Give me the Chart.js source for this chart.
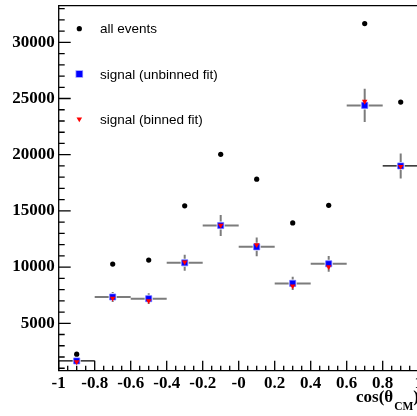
<!DOCTYPE html>
<html>
<head>
<meta charset="utf-8">
<script src="https://cdn.jsdelivr.net/npm/chart.js@4/dist/chart.umd.min.js"></script>
<style>
  html, body { margin: 0; padding: 0; background: #fff; overflow: hidden; }
  #wrap { width: 417px; height: 416px; overflow: hidden; }
</style>
</head>
<body>
<div id="wrap"><canvas id="myChart" width="450" height="416"></canvas></div>
<script>
// bins in cos(theta_CM)
const binCenters = [-0.9, -0.7, -0.5, -0.3, -0.1, 0.1, 0.3, 0.5, 0.7, 0.9];
const binWidth = 0.2;
const allEvents = [2250, 10270, 10620, 15450, 20030, 17820, 13930, 15500, 31670, 24680];
const sigUnbinned = [1650, 7340, 7190, 10380, 13700, 11800, 8550, 10290, 24390, 19000];
const sigUnbinnedErr = [200, 450, 480, 710, 930, 840, 590, 700, 1480, 1110];
const sigBinned = [1560, 7220, 7000, 10450, 13720, 11990, 8310, 10030, 24740, 18950];

const xTicks = [-1, -0.8, -0.6, -0.4, -0.2, 0, 0.2, 0.4, 0.6, 0.8, 1];
const xTickLabels = ['-1', '-0.8', '-0.6', '-0.4', '-0.2', '-0', '0.2', '0.4', '0.6', '0.8', '1'];
const yTicks = [5000, 10000, 15000, 20000, 25000, 30000];
const yTickLabels = ['5000', '10000', '15000', '20000', '25000', '30000'];

const legendLabels = ['all events', 'signal (unbinned fit)', 'signal (binned fit)'];

function pts(vals) {
  return binCenters.map((x, i) => ({ x: x, y: vals[i] }));
}

const tickFont = { family: 'Liberation Serif', weight: 'bold', size: 17 };

// error bars, frame, inward ticks, legend and axis title
const rootStyle = {
  id: 'rootStyle',
  beforeDatasetsDraw(chart) {
    const ctx = chart.ctx;
    const xs = chart.scales.x, ys = chart.scales.y;
    const gap = 4;
    ctx.save();
    binCenters.forEach((xc, i) => {
      const px = xs.getPixelForValue(xc);
      const py = ys.getPixelForValue(sigUnbinned[i]);
      const x0 = xs.getPixelForValue(xc - binWidth / 2);
      const x1 = xs.getPixelForValue(xc + binWidth / 2);
      const yTop = ys.getPixelForValue(sigUnbinned[i] + sigUnbinnedErr[i]);
      const yBot = ys.getPixelForValue(sigUnbinned[i] - sigUnbinnedErr[i]);
      const edge = (i === 0 || i === binCenters.length - 1);
      // horizontal
      ctx.strokeStyle = edge ? '#000' : '#7c7c7c';
      ctx.lineWidth = edge ? 1.3 : 2;
      ctx.beginPath();
      ctx.moveTo(x0, py); ctx.lineTo(px - gap, py);
      ctx.moveTo(px + gap, py); ctx.lineTo(x1, py);
      ctx.stroke();
      // vertical
      ctx.strokeStyle = '#7c7c7c';
      ctx.lineWidth = 2;
      ctx.beginPath();
      if (yTop < py - gap) { ctx.moveTo(px, yTop); ctx.lineTo(px, py - gap); }
      if (yBot > py + gap) { ctx.moveTo(px, py + gap); ctx.lineTo(px, yBot); }
      ctx.stroke();
    });
    ctx.restore();
  },
  afterDraw(chart) {
    const ctx = chart.ctx;
    const a = chart.chartArea;
    const xs = chart.scales.x, ys = chart.scales.y;
    ctx.save();
    // frame
    ctx.strokeStyle = '#000';
    ctx.lineWidth = 1.3;
    ctx.beginPath();
    ctx.moveTo(a.right, a.top); ctx.lineTo(a.left, a.top);
    ctx.lineTo(a.left, a.bottom); ctx.lineTo(a.right, a.bottom);
    ctx.stroke();
    // y ticks, pointing inward
    ctx.beginPath();
    for (let v = 1000; v <= ys.max; v += 1000) {
      const py = ys.getPixelForValue(v);
      const len = (v % 5000 === 0) ? 12 : 6;
      ctx.moveTo(a.left, py); ctx.lineTo(a.left + len, py);
    }
    // x ticks
    for (let k = 0; k <= 40; k++) {
      const v = -1 + k * 0.05;
      const px = xs.getPixelForValue(v);
      const len = (k % 4 === 0) ? 10 : 5;
      ctx.moveTo(px, a.bottom); ctx.lineTo(px, a.bottom - len);
    }
    ctx.stroke();

    // legend
    const lx = 79.3, tx = 100;
    const ly = [28.7, 74, 119];
    ctx.fillStyle = '#000';
    ctx.beginPath(); ctx.arc(lx, ly[0], 2.6, 0, Math.PI * 2); ctx.fill();
    ctx.fillStyle = 'rgba(110,110,255,0.7)';
    ctx.fillRect(lx - 3.8, ly[1] - 3.8, 7.6, 7.6);
    ctx.fillStyle = '#0000ff';
    ctx.fillRect(lx - 3, ly[1] - 3, 6, 6);
    ctx.fillStyle = '#ff0000';
    ctx.beginPath();
    ctx.moveTo(lx - 2.8, ly[2] - 1.6); ctx.lineTo(lx + 2.8, ly[2] - 1.6); ctx.lineTo(lx, ly[2] + 3.2);
    ctx.closePath(); ctx.fill();
    ctx.fillStyle = '#000';
    ctx.font = '13.5px "Liberation Sans"';
    ctx.textBaseline = 'middle';
    legendLabels.forEach((t, i) => ctx.fillText(t, tx, ly[i] + 1));

    // axis title cos(theta_CM)
    ctx.textBaseline = 'alphabetic';
    let x = 356;
    ctx.font = 'bold 17px "Liberation Serif"';
    ctx.fillText('cos(\u03B8', x, 401.7);
    x += ctx.measureText('cos(\u03B8').width + 1;
    ctx.font = 'bold 11.5px "Liberation Serif"';
    ctx.fillText('CM', x, 409.7);
    x += ctx.measureText('CM').width;
    ctx.font = 'bold 17px "Liberation Serif"';
    ctx.fillText(')', x, 401.7);
    ctx.restore();
  }
};

const ctx = document.getElementById('myChart').getContext('2d');
const myChart = new Chart(ctx, {
  type: 'scatter',
  data: {
    datasets: [{
      label: legendLabels[0],
      data: pts(allEvents),
      pointStyle: 'circle',
      pointRadius: 2.6,
      backgroundColor: '#000',
      borderWidth: 0,
      order: 3
    }, {
      label: legendLabels[1],
      data: pts(sigUnbinned),
      pointStyle: 'rect',
      pointRadius: 4.3,
      backgroundColor: '#0000ff',
      borderColor: 'rgba(110,110,255,0.7)',
      borderWidth: 1,
      order: 2
    }, {
      label: legendLabels[2],
      data: pts(sigBinned),
      pointStyle: 'triangle',
      rotation: 180,
      pointRadius: 3.2,
      backgroundColor: '#ff0000',
      borderWidth: 0,
      order: 1
    }]
  },
  options: {
    responsive: false,
    animation: false,
    layout: { padding: { left: 0, top: 5.7, right: 31.3, bottom: 0 } },
    plugins: { legend: { display: false }, tooltip: { enabled: false } },
    scales: {
      x: {
        type: 'linear',
        min: -1,
        max: 1,
        grid: { display: false, drawTicks: false },
        border: { display: false },
        afterBuildTicks: (s) => { s.ticks = xTicks.map(v => ({ value: v })); },
        afterFit: (s) => { s.height = 45.3; s.paddingLeft = 0; s.paddingRight = 0; },
        ticks: {
          autoSkip: false,
          maxRotation: 0,
          padding: 3,
          color: '#000',
          font: tickFont,
          callback: (v, i) => xTickLabels[i]
        }
      },
      y: {
        type: 'linear',
        min: 780,
        max: 33260,
        grid: { display: false, drawTicks: false },
        border: { display: false },
        afterBuildTicks: (s) => { s.ticks = yTicks.map(v => ({ value: v })); },
        afterFit: (s) => { s.width = 58.7; s.paddingTop = 0; s.paddingBottom = 0; },
        ticks: {
          autoSkip: false,
          padding: 4,
          color: '#000',
          font: tickFont,
          callback: (v, i) => yTickLabels[i]
        }
      }
    }
  },
  plugins: [rootStyle]
});
</script>
</body>
</html>
